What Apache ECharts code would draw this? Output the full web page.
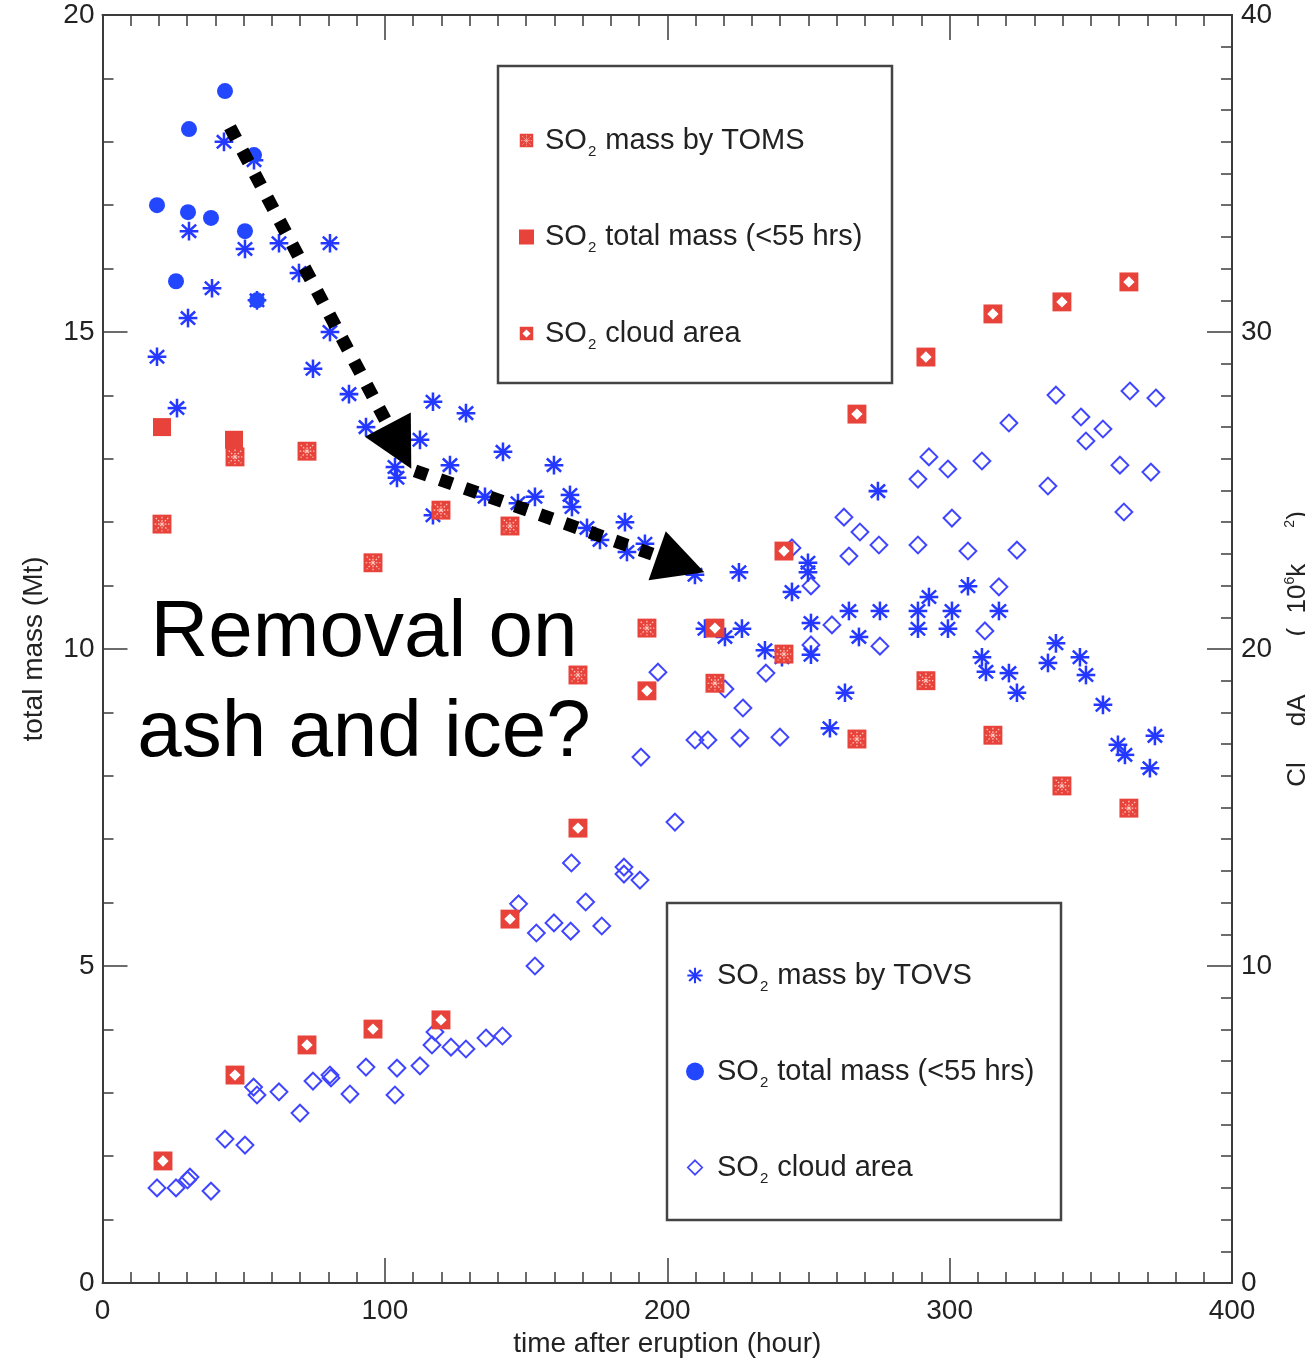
<!DOCTYPE html>
<html>
<head>
<meta charset="utf-8">
<script src="https://cdn.jsdelivr.net/npm/echarts@6/dist/echarts.min.js"></script>
<style>
  html, body { margin: 0; padding: 0; background: #fff; }
  #chart { width: 1305px; height: 1358px; }
</style>
</head>
<body>
<div id="chart"></div>
<script>
// ---- data: [time after eruption (hour), value] ----
// TOMS: SO2 mass (Mt)
const tomsMass = [
  [21.07, 11.97], [46.92, 13.03], [72.42, 13.12], [95.79, 11.36], [119.87, 12.19],
  [144.30, 11.94], [168.38, 9.59], [192.81, 10.33], [216.89, 9.46], [241.33, 9.92],
  [267.18, 8.58], [291.61, 9.50], [315.33, 8.64], [339.77, 7.84], [363.49, 7.49]
];
// TOMS: SO2 total mass (<55 hrs), Mt
const tomsTotal = [[21.07, 13.50], [46.57, 13.30]];
// TOMS: SO2 cloud area (10^6 km^2)
const tomsArea = [
  [21.42, 3.85], [46.92, 6.56], [72.42, 7.51], [95.79, 8.01], [119.87, 8.30],
  [144.30, 11.48], [168.38, 14.35], [192.81, 18.68], [216.89, 20.66], [241.33, 23.09],
  [267.18, 27.41], [291.61, 29.21], [315.33, 30.57], [339.77, 30.95], [363.49, 31.58]
];
// TOVS: SO2 mass (Mt)
const tovsMass = [
  [19.30, 14.61], [26.38, 13.80], [30.28, 15.22], [30.63, 16.59], [38.78, 15.69],
  [43.02, 18.00], [50.46, 16.31], [53.65, 17.71], [54.71, 15.50], [62.50, 16.40],
  [69.58, 15.93], [74.54, 14.42], [80.56, 16.40], [80.56, 15.00], [87.29, 14.02],
  [93.31, 13.50], [103.58, 12.87], [104.29, 12.70], [112.43, 13.30], [117.03, 13.90],
  [117.03, 12.11], [123.05, 12.90], [128.72, 13.72], [135.45, 12.40], [141.82, 13.11],
  [147.13, 12.30], [153.15, 12.40], [159.88, 12.90], [165.55, 12.43], [166.25, 12.24],
  [171.57, 11.91], [176.17, 11.72], [185.02, 12.00], [185.73, 11.53], [192.10, 11.66],
  [209.81, 11.17], [225.39, 11.21], [213.35, 10.32], [220.43, 10.19], [226.45, 10.32],
  [234.60, 9.98], [240.62, 9.87], [244.16, 10.90], [249.83, 11.36], [249.83, 11.21],
  [250.89, 10.41], [250.89, 9.91], [257.61, 8.75], [262.93, 9.31], [264.34, 10.60],
  [267.88, 10.19], [274.61, 12.49], [275.32, 10.60], [288.78, 10.60], [288.78, 10.32],
  [292.67, 10.82], [299.40, 10.32], [300.82, 10.60], [306.49, 10.99], [311.44, 9.87],
  [312.86, 9.64], [317.46, 10.60], [321.00, 9.62], [323.84, 9.31], [334.82, 9.78],
  [337.65, 10.09], [346.15, 9.87], [348.28, 9.59], [354.30, 9.12], [359.60, 8.49],
  [362.08, 8.33], [370.93, 8.12], [372.70, 8.63]
];
// TOVS: SO2 total mass (<55 hrs), Mt
const tovsTotal = [
  [19.30, 17.00], [26.03, 15.80], [30.28, 16.89], [30.63, 18.20], [38.42, 16.80],
  [43.38, 18.80], [50.46, 16.59], [53.65, 17.79], [54.71, 15.50]
];
// TOVS: SO2 cloud area (10^6 km^2)
const tovsArea = [
  [19.30, 3.00], [26.03, 3.00], [30.10, 3.25], [30.98, 3.34], [38.42, 2.90],
  [43.38, 4.54], [50.46, 4.35], [53.51, 6.18], [54.71, 5.93], [62.50, 6.03],
  [69.94, 5.36], [74.54, 6.37], [80.56, 6.56], [80.91, 6.47], [87.64, 5.96],
  [93.31, 6.81], [103.58, 5.93], [104.29, 6.78], [112.43, 6.85], [116.68, 7.51],
  [117.74, 7.92], [123.41, 7.44], [128.72, 7.38], [135.80, 7.73], [141.64, 7.79],
  [147.35, 11.96], [153.15, 10.00], [153.65, 11.04], [159.88, 11.36], [165.80, 11.10],
  [166.05, 13.25], [171.11, 12.02], [176.81, 11.26], [184.67, 13.12], [184.67, 12.90],
  [190.33, 12.71], [190.69, 16.59], [202.73, 14.54], [196.71, 19.27], [209.81, 17.13],
  [214.41, 17.13], [220.43, 18.74], [225.74, 17.19], [226.80, 18.14], [234.95, 19.24],
  [239.91, 17.22], [244.16, 23.19], [250.89, 21.99], [250.89, 20.13], [258.32, 20.76],
  [262.57, 24.16], [264.34, 22.93], [268.24, 23.69], [274.96, 23.28], [275.32, 20.09],
  [288.78, 25.36], [288.78, 23.28], [292.67, 26.06], [299.40, 25.68], [300.82, 24.13],
  [306.49, 23.09], [311.44, 25.93], [312.50, 20.57], [317.46, 21.96], [321.00, 27.13],
  [323.84, 23.12], [334.82, 25.14], [337.65, 28.01], [346.51, 27.32], [348.28, 26.56],
  [354.30, 26.94], [360.31, 25.80], [361.72, 24.32], [363.85, 28.14], [371.28, 25.58],
  [373.05, 27.92]
];
// dotted annotation arrows (hour, Mt): start point, arrow-head centre
const arrowPaths = [
  [[45.15, 18.23], [105.20, 13.19]],
  [[110.66, 12.81], [204.78, 11.34]]
];

// ---- styling ----
const FONT = "'Liberation Sans', Arial, Helvetica, sans-serif";
const INK = '#222';
const AXIS = '#3c3c3c';
const RED = '#e8433a';
const BLUE = '#2438ff';

function svgSymbol(svg) {
  return 'image://data:image/svg+xml;charset=utf-8,' + encodeURIComponent(svg);
}
const SVG_HEAD = '<svg xmlns="http://www.w3.org/2000/svg" width="40" height="40" viewBox="0 0 20 20">';
const symTomsMass = svgSymbol(SVG_HEAD +
  '<rect x="1" y="1" width="18" height="18" fill="' + RED + '"/>' +
  '<g stroke="#ffc9c2" stroke-width="1.1" stroke-dasharray="1.6 1.6">' +
  '<line x1="10" y1="3" x2="10" y2="17"/><line x1="3" y1="10" x2="17" y2="10"/>' +
  '<line x1="4" y1="4" x2="16" y2="16"/><line x1="16" y1="4" x2="4" y2="16"/></g>' +
  '<circle cx="10" cy="10" r="1.3" fill="#ffc9c2"/></svg>');
const symTomsArea = svgSymbol(SVG_HEAD +
  '<rect x="1" y="1" width="18" height="18" fill="' + RED + '"/>' +
  '<polygon points="10,4.6 15.4,10 10,15.4 4.6,10" fill="#fff"/></svg>');
const symTovsMass = svgSymbol(SVG_HEAD +
  '<g stroke="' + BLUE + '" stroke-width="2.3" stroke-linecap="butt">' +
  '<line x1="10" y1="1.5" x2="10" y2="18.5"/><line x1="1.5" y1="10" x2="18.5" y2="10"/>' +
  '<line x1="3.5" y1="4" x2="16.5" y2="16"/><line x1="16.5" y1="4" x2="3.5" y2="16"/></g></svg>');
const symTovsArea = svgSymbol(SVG_HEAD +
  '<polygon points="10,2 18,10 10,18 2,10" fill="none" stroke="#4046ff" stroke-width="1.9"/></svg>');

const legendText = {
  'TOMS mass': ' mass by TOMS',
  'TOMS total': ' total mass (<55 hrs)',
  'TOMS area': ' cloud area',
  'TOVS mass': ' mass by TOVS',
  'TOVS total': ' total mass (<55 hrs)',
  'TOVS area': ' cloud area'
};
function legendFormatter(name) {
  return '{g| }{t|SO}{s|2}{t|' + legendText[name] + '}';
}
function legendRich(spacer) {
  return {
    g: { width: spacer, fontSize: 10 },
    t: { fontSize: 29, lineHeight: 36, fontFamily: FONT, color: INK },
    s: { fontSize: 15, lineHeight: 14, padding: [22, 1, 0, 1], fontFamily: FONT, color: INK }
  };
}

function axisBase(minorSplit) {
  return {
    axisLine: { show: true, onZero: false, lineStyle: { color: AXIS, width: 2 } },
    axisTick: { show: true, inside: true, length: 25, lineStyle: { color: AXIS, width: 1.5 } },
    minorTick: { show: true, splitNumber: minorSplit, length: 11, lineStyle: { color: AXIS, width: 1.5 } },
    splitLine: { show: false },
    minorSplitLine: { show: false }
  };
}
const labelStyle = { fontSize: 28, color: INK, fontFamily: FONT };
const solid = { opacity: 1 };

const chart = echarts.init(document.getElementById('chart'), null, { renderer: 'canvas' });

chart.setOption({
  animation: false,
  backgroundColor: '#fff',
  grid: { left: 102.5, right: 73, top: 15, bottom: 75, containLabel: false, outerBoundsMode: 'none' },
  xAxis: [
    Object.assign(axisBase(10), {
      type: 'value', position: 'bottom', min: 0, max: 400, interval: 100,
      axisLabel: Object.assign({ margin: 14 }, labelStyle),
      name: 'time after eruption (hour)', nameLocation: 'middle', nameGap: 44,
      nameTextStyle: { fontSize: 28, color: INK, fontFamily: FONT }
    }),
    Object.assign(axisBase(10), {
      type: 'value', position: 'top', min: 0, max: 400, interval: 100,
      axisLabel: { show: false }
    })
  ],
  yAxis: [
    Object.assign(axisBase(5), {
      type: 'value', position: 'left', min: 0, max: 20, interval: 5,
      axisLabel: Object.assign({ margin: 8 }, labelStyle),
      name: 'total mass (Mt)', nameLocation: 'middle', nameRotate: 90, nameGap: 54,
      nameTextStyle: { fontSize: 28, color: INK, fontFamily: FONT }
    }),
    Object.assign(axisBase(10), {
      type: 'value', position: 'right', min: 0, max: 40, interval: 10,
      axisLabel: Object.assign({ margin: 9 }, labelStyle),
      name: '{t|Cl     dA        (  10}{p|6}{t|k     }{p|2}{t|)}',
      nameLocation: 'middle', nameRotate: 90, nameGap: 40,
      nameTextStyle: {
        fontSize: 26, color: INK, fontFamily: FONT,
        rich: {
          t: { fontSize: 26, color: INK, fontFamily: FONT },
          p: { fontSize: 14, color: INK, fontFamily: FONT, padding: [0, 0, 16, 0] }
        }
      }
    })
  ],
  legend: [
    {
      data: ['TOMS mass', 'TOMS total', 'TOMS area'],
      orient: 'vertical', left: 519, top: 122, padding: 0,
      itemWidth: 15, itemHeight: 15, itemGap: 59.5, selectedMode: false,
      formatter: legendFormatter,
      textStyle: { fontFamily: FONT, color: INK, rich: legendRich(6) },
      z: 6
    },
    {
      data: ['TOVS mass', 'TOVS total', 'TOVS area'],
      orient: 'vertical', left: 686, top: 957, padding: 0,
      itemWidth: 18, itemHeight: 18, itemGap: 59, selectedMode: false,
      formatter: legendFormatter,
      textStyle: { fontFamily: FONT, color: INK, rich: legendRich(8) },
      z: 6
    }
  ],
  graphic: [
    { type: 'rect', z: 5, shape: { x: 498, y: 66, width: 394, height: 317 },
      style: { fill: '#fff', stroke: '#444', lineWidth: 2.5 } },
    { type: 'rect', z: 5, shape: { x: 667, y: 903, width: 394, height: 317 },
      style: { fill: '#fff', stroke: '#444', lineWidth: 2.5 } },
    { type: 'text', z: 30, x: 364, y: 634,
      style: { text: 'Removal on', font: '80px ' + FONT, fill: '#000', align: 'center', verticalAlign: 'middle' } },
    { type: 'text', z: 30, x: 364, y: 734,
      style: { text: 'ash and ice?', font: '80px ' + FONT, fill: '#000', align: 'center', verticalAlign: 'middle' } }
  ],
  series: [
    { name: 'TOVS area', type: 'scatter', yAxisIndex: 1, data: tovsArea,
      symbol: symTovsArea, symbolSize: 21, itemStyle: solid, z: 2 },
    { name: 'TOVS mass', type: 'scatter', yAxisIndex: 0, data: tovsMass,
      symbol: symTovsMass, symbolSize: 22, itemStyle: solid, z: 3 },
    { name: 'TOVS total', type: 'scatter', yAxisIndex: 0, data: tovsTotal,
      symbol: 'circle', symbolSize: 16, itemStyle: { color: '#2347ff', opacity: 1 }, z: 3 },
    { name: 'TOMS area', type: 'scatter', yAxisIndex: 1, data: tomsArea,
      symbol: symTomsArea, symbolSize: 21, itemStyle: solid, z: 4 },
    { name: 'TOMS mass', type: 'scatter', yAxisIndex: 0, data: tomsMass,
      symbol: symTomsMass, symbolSize: 21, itemStyle: solid, z: 4 },
    { name: 'TOMS total', type: 'scatter', yAxisIndex: 0, data: tomsTotal,
      symbol: 'rect', symbolSize: 18, itemStyle: { color: RED, opacity: 1 }, z: 4 },
    { name: 'arrows', type: 'scatter', yAxisIndex: 0, data: [], z: 20, silent: true,
      markLine: {
        silent: true, animation: false, z: 20,
        symbol: ['none', 'triangle'], symbolSize: [52, 50],
        label: { show: false },
        emphasis: { disabled: true },
        lineStyle: { color: '#000', width: 13, type: [13, 13.5], opacity: 1, cap: 'butt' },
        data: arrowPaths.map(p => [{ coord: p[0] }, { coord: p[1] }])
      }
    }
  ]
});
</script>
</body>
</html>
